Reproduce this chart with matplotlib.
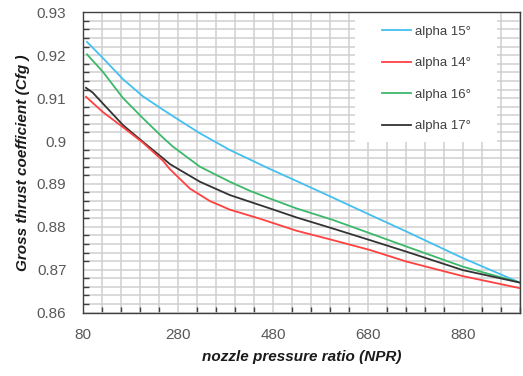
import matplotlib
matplotlib.use("Agg")
import matplotlib.pyplot as plt
import numpy as np

# valeurs
npr_15 = [88, 121, 164, 206, 248, 269, 326, 389, 473, 529, 606, 684, 761, 880, 1000]
cfg_15 = [0.9231, 0.9194, 0.9144, 0.9104, 0.9073, 0.9058, 0.9018, 0.8979, 0.8935,
          0.8907, 0.8868, 0.8828, 0.8789, 0.8727, 0.8670]

npr_14 = [86, 121, 164, 206, 248, 263, 305, 347, 389, 452, 529, 606, 684, 761, 880, 1000]
cfg_14 = [0.9103, 0.9068, 0.9032, 0.8996, 0.8954, 0.8934, 0.8889, 0.8860, 0.8840, 0.8819,
          0.8791, 0.8769, 0.8746, 0.8719, 0.8685, 0.8657]

npr_16 = [88, 121, 164, 206, 248, 269, 326, 389, 431, 473, 529, 606, 684, 761, 880, 1000]
cfg_16 = [0.9202, 0.9162, 0.9100, 0.9053, 0.9008, 0.8987, 0.8940, 0.8905, 0.8884, 0.8866,
          0.8843, 0.8816, 0.8785, 0.8754, 0.8707, 0.8670]

npr_17 = [86, 100, 121, 164, 206, 248, 263, 326, 389, 473, 529, 606, 684, 761, 880, 1000]
cfg_17 = [0.9124, 0.9113, 0.9088, 0.9037, 0.8998, 0.8960, 0.8946, 0.8905, 0.8874, 0.8843,
          0.8822, 0.8796, 0.8769, 0.8742, 0.8699, 0.8670]

x_ticks = [80, 280, 480, 680, 880]
y_ticks = [0.86, 0.87, 0.88, 0.89, 0.9, 0.91, 0.92, 0.93]
y_labels = ["0.86", "0.87", "0.88", "0.89", "0.9", "0.91", "0.92", "0.93"]

plt.rcParams['font.family'] = ['Liberation Sans', 'DejaVu Sans']

fig = plt.figure(figsize=(5.23, 3.76), dpi=100)
ax = fig.add_axes([0.159, 0.1686, 0.835, 0.7987])

ax.plot(npr_15, cfg_15, color="#45bff0", lw=1.3, label="alpha 15°", zorder=3)
ax.plot(npr_14, cfg_14, color="#ff4040", lw=1.3, label="alpha 14°", zorder=4)
ax.plot(npr_16, cfg_16, color="#3cb86b", lw=1.3, label="alpha 16°", zorder=3)
ax.plot(npr_17, cfg_17, color="#333333", lw=1.3, label="alpha 17°", zorder=3)

ax.set_xlim(80, 1000)
ax.set_ylim(0.86, 0.93)
ax.set_xticks(x_ticks)
ax.set_yticks(y_ticks)
ax.set_yticklabels(y_labels)
ax.set_xticks(np.arange(80, 1001, 40), minor=True)
ax.set_yticks(np.arange(0.86, 0.9301, 0.002), minor=True)

ax.grid(which="both", color="#cfcfcf", lw=1.1)
ax.set_axisbelow(True)
ax.tick_params(which="both", direction="in", colors="#404040", labelcolor="#595959")
ax.tick_params(which="major", length=0, labelsize=11)
ax.tick_params(which="minor", length=4, width=1)
ax.tick_params(axis="x", which="major", pad=11)
ax.tick_params(axis="y", which="major", pad=12)
for s in ax.spines.values():
    s.set_color("#404040")
    s.set_linewidth(1.0)

ax.set_xlabel("nozzle pressure ratio (NPR)", fontsize=11, fontweight="bold",
              fontstyle="italic", color="#1a1a1a", labelpad=6)
ax.set_ylabel("Gross thrust coefficient (Cfg )", fontsize=11, fontweight="bold",
              fontstyle="italic", color="#1a1a1a", labelpad=5)

# fond blanc de la légende
ax.add_patch(plt.Rectangle((0.622, 0.568), 0.325, 0.432, transform=ax.transAxes,
                           facecolor="white", edgecolor="none", zorder=1.5))
leg = ax.legend(loc="upper left", bbox_to_anchor=(0.670, 0.977), fontsize=9.5,
                frameon=False, borderpad=0.5, labelspacing=1.45,
                handlelength=2.2, handletextpad=0.25, borderaxespad=0)
for t in leg.get_texts():
    t.set_color("#404040")

plt.savefig("out.png", dpi=100)
